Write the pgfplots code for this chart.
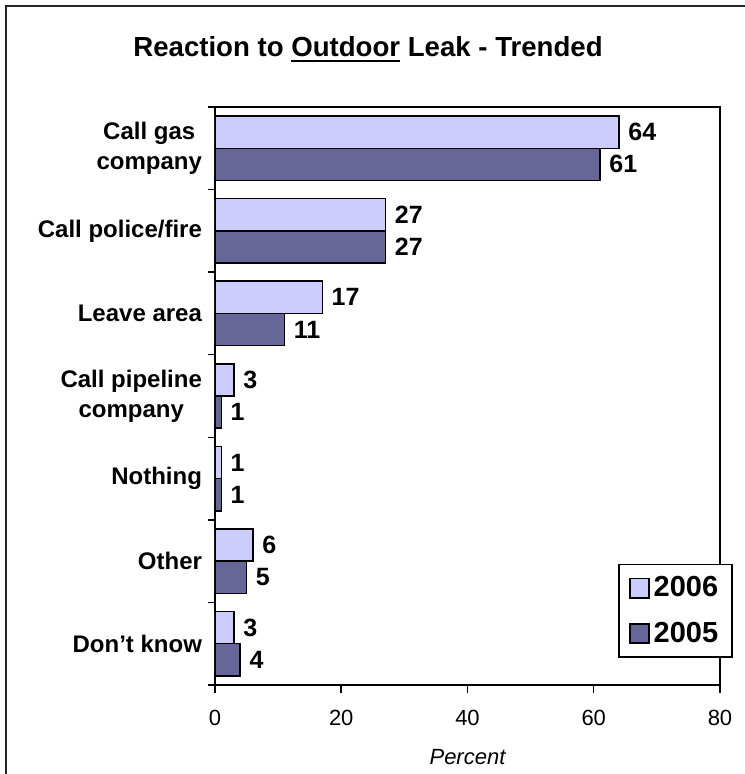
\documentclass[border=0pt]{standalone}
\usepackage{fontspec}
\setmainfont{Liberation Sans}
\usepackage{pgfplots}
\pgfplotsset{compat=1.18}

\definecolor{bar2006}{HTML}{CCCCFF}
\definecolor{bar2005}{HTML}{666699}

% thick underline for the title word
\newcommand\thickul[1]{\setbox0\hbox{#1}\rlap{\rule[-2.6pt]{\wd0}{1.3pt}}\box0\relax}

\pgfplotsset{
  sqlegend/.style={legend image code/.code={%
      \draw[##1,line width=0.75pt] (0pt,-4.8pt) rectangle (9.6pt,4.8pt);}},
}

\begin{document}
\begin{tikzpicture}

\begin{axis}[
  at={(0pt,0pt)}, anchor=south west,
  scale only axis,
  width=252.5pt, height=289pt,
  xbar, bar width=0.39,
  xmin=0, xmax=80,
  ymin=-0.5, ymax=6.5,
  axis line style={line width=0.75pt},
  tick align=outside,
  xtick pos=bottom, ytick pos=left,
  xtick={0,20,40,60,80},
  major tick length=4pt,
  minor tick length=3.5pt,
  every tick/.style={black, line width=0.75pt},
  ytick={0,...,6},
  minor ytick={-0.5,0.5,...,6.5},
  major y tick style={draw=none},
  yticklabels={Don't know, Other, Nothing, {Call pipeline\\company}, Leave area, Call police/fire, {Call gas\\company}},
  yticklabel style={align=center, font=\bfseries\fontsize{12}{15}\selectfont, xshift=1pt},
  xticklabel style={font=\fontsize{11}{13}\selectfont, yshift=-5pt},
  /pgf/number format/assume math mode=true,
  xlabel={\itshape Percent},
  x label style={at={(axis description cs:0.5,0)}, anchor=center, yshift=-36pt, font=\fontsize{11}{13}\selectfont},
  title={\bfseries Reaction to \thickul{Outdoor} Leak - Trended},
  title style={at={(axis description cs:0.303,1)}, anchor=base, yshift=19pt, font=\fontsize{13.8}{16}\selectfont},
  nodes near coords,
  nodes near coords style={font=\bfseries\fontsize{12.5}{14}\selectfont, xshift=1pt},
  legend style={at={(axis description cs:1,0.047)}, anchor=south east, xshift=6.5pt,
    draw=black, line width=0.75pt, fill=white,
    font=\bfseries\fontsize{14.5}{16}\selectfont,
    row sep=7pt, inner xsep=5pt, inner ysep=4pt, cells={anchor=west}},
]

% 2006
\addplot[draw=black, line width=0.75pt, fill=bar2006, bar shift=0.195, sqlegend]
  coordinates {(64,6) (27,5) (17,4) (3,3) (1,2) (6,1) (3,0)};
\addlegendentry{2006}

% 2005
\addplot[draw=black, line width=0.75pt, fill=bar2005, bar shift=-0.195, sqlegend]
  coordinates {(61,6) (27,5) (11,4) (1,3) (1,2) (5,1) (4,0)};
\addlegendentry{2005}

\end{axis}

% outer frame (cropped on right and bottom)
\draw[line width=1pt, black!85] (-104.5pt,-60pt) -- (-104.5pt,339.5pt) -- (300pt,339.5pt);

\pgfresetboundingbox
\useasboundingbox (-107.5pt,-44.5pt) rectangle (264.5pt,342.5pt);
\end{tikzpicture}
\end{document}
